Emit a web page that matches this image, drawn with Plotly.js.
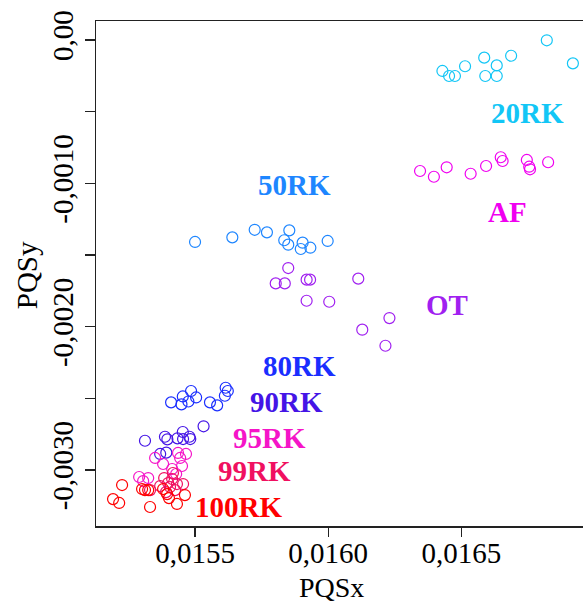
<!DOCTYPE html>
<html>
<head>
<meta charset="utf-8">
<script src="https://cdn.plot.ly/plotly-3.0.1.min.js"></script>
<style>
  html, body { margin: 0; padding: 0; overflow: hidden; background: #fff; }
  #chart { width: 600px; height: 606px; }
</style>
</head>
<body>
<div id="chart"></div>
<script>
// Group names
const groups = ["20RK", "50RK", "AF", "OT", "80RK", "90RK", "95RK", "99RK", "100RK"];

// PQSx / PQSy values per group
const x20RK = [0.016429, 0.016454, 0.016476, 0.016514, 0.016586, 0.016590, 0.016633, 0.016633, 0.016687, 0.016821, 0.016919];
const y20RK = [-0.000216, -0.000251, -0.000251, -0.000183, -0.000123, -0.000251, -0.000177, -0.000251, -0.000110, -0.000002, -0.000163];

const x50RK = [0.015500, 0.015640, 0.015724, 0.015770, 0.015854, 0.015835, 0.015850, 0.015904, 0.015897, 0.015933, 0.015998];
const y50RK = [-0.001409, -0.001377, -0.001324, -0.001342, -0.001328, -0.001397, -0.001428, -0.001414, -0.001458, -0.001449, -0.001402];

const xAF = [0.016345, 0.016397, 0.016445, 0.016535, 0.016593, 0.016648, 0.016655, 0.016746, 0.016755, 0.016758, 0.016826];
const yAF = [-0.000914, -0.000954, -0.000888, -0.000933, -0.000879, -0.000818, -0.000844, -0.000837, -0.000884, -0.000902, -0.000853];

const xOT = [0.015850, 0.015803, 0.015837, 0.015919, 0.015932, 0.016113, 0.015919, 0.016004, 0.016230, 0.016128, 0.016215];
const yOT = [-0.001591, -0.001698, -0.001698, -0.001672, -0.001672, -0.001665, -0.001819, -0.001826, -0.001940, -0.002021, -0.002133];

const x80RK = [0.015410, 0.015449, 0.015454, 0.015475, 0.015485, 0.015504, 0.015556, 0.015583, 0.015612, 0.015615, 0.015623];
const y80RK = [-0.002528, -0.002542, -0.002487, -0.002522, -0.002449, -0.002494, -0.002528, -0.002549, -0.002482, -0.002426, -0.002449];

const x90RK = [0.015532, 0.015312, 0.015387, 0.015396, 0.015434, 0.015454, 0.015455, 0.015479, 0.015482, 0.015369, 0.015392];
const y90RK = [-0.002695, -0.002796, -0.002768, -0.002786, -0.002779, -0.002735, -0.002784, -0.002768, -0.002784, -0.002888, -0.002879];

const x95RK = [0.015290, 0.015305, 0.015324, 0.015350, 0.015380, 0.015414, 0.015436, 0.015444, 0.015466, 0.015451, 0.015429];
const y95RK = [-0.003049, -0.003077, -0.003056, -0.002916, -0.002958, -0.002993, -0.002881, -0.002916, -0.002888, -0.002972, -0.003028];

const x99RK = [0.015417, 0.015414, 0.015399, 0.015406, 0.015369, 0.015432, 0.015455, 0.015331, 0.015391, 0.015384, 0.015425];
const y99RK = [-0.003021, -0.003063, -0.003091, -0.003119, -0.003112, -0.003098, -0.003098, -0.003140, -0.003154, -0.003056, -0.003140];

const x100RK = [0.015192, 0.015215, 0.015226, 0.015331, 0.015301, 0.015312, 0.015324, 0.015380, 0.015395, 0.015402, 0.015432, 0.015462];
const y100RK = [-0.003203, -0.003230, -0.003105, -0.003258, -0.003133, -0.003140, -0.003140, -0.003133, -0.003168, -0.003196, -0.003237, -0.003175];

// Axis ticks
const xTickVals = [0.0155, 0.0160, 0.0165];
const xTickText = ["0,0155", "0,0160", "0,0165"];
const yTickVals = [0, -0.0005, -0.0010, -0.0015, -0.0020, -0.0025, -0.0030];
const yTickText = ["0,00", "", "-0,0010", "", "-0,0020", "", "-0,0030"];

// ---- styling / layout ----
const xs = [x20RK, x50RK, xAF, xOT, x80RK, x90RK, x95RK, x99RK, x100RK];
const ys = [y20RK, y50RK, yAF, yOT, y80RK, y90RK, y95RK, y99RK, y100RK];
const colors = {
  "20RK": "#12C6F6", "50RK": "#1E86FF", "AF": "#F000F0", "OT": "#A020F0",
  "80RK": "#1A2EFF", "90RK": "#4414E6", "95RK": "#F514C8", "99RK": "#F01060", "100RK": "#FF0000"
};
// where each group name sits on the plot (data units)
const labelAt = {
  "20RK": [0.016747, -0.000509], "50RK": [0.015872, -0.001012], "AF": [0.016675, -0.001200],
  "OT": [0.016446, -0.001849], "80RK": [0.015894, -0.002275], "90RK": [0.015845, -0.002526],
  "95RK": [0.015778, -0.002777], "99RK": [0.015725, -0.003007], "100RK": [0.015665, -0.003258]
};

const serif = "Liberation Serif, Times New Roman, serif";
const xRange = [0.015128, 0.016987];

const traces = groups.map((g, i) => ({
  type: "scatter", mode: "markers", name: g,
  x: xs[i], y: ys[i],
  marker: { symbol: "circle-open", size: 11, color: colors[g], line: { width: 1.2, color: colors[g] } },
  hoverinfo: "x+y+name"
}));
// empty trace that carries the tick-mark-only x axis
traces.push({ type: "scatter", mode: "markers", x: [], y: [], xaxis: "x2", yaxis: "y", hoverinfo: "skip" });

const annotations = groups.map(g => ({
  x: labelAt[g][0], y: labelAt[g][1], xref: "x", yref: "y",
  text: "<b>" + g + "</b>", showarrow: false,
  xanchor: "center", yanchor: "middle",
  font: { family: serif, size: 29, color: colors[g] }
}));
annotations.push(
  { x: 0.476, y: -0.122, xref: "paper", yref: "paper", text: "PQSx", showarrow: false,
    xanchor: "center", yanchor: "middle", font: { family: serif, size: 28, color: "#000" } },
  { x: -0.139, y: 0.497, xref: "paper", yref: "paper", text: "PQSy", showarrow: false, textangle: -90,
    xanchor: "center", yanchor: "middle", font: { family: serif, size: 29, color: "#000" } }
);

const axisCommon = {
  showgrid: false, zeroline: false, showline: true, mirror: true,
  linecolor: "#222", linewidth: 1.5,
  ticks: "outside", ticklen: 10, tickwidth: 1.2, tickcolor: "#222",
  tickfont: { family: serif, size: 29, color: "#000" }
};

const layout = {
  width: 600, height: 606,
  margin: { l: 96, r: 9, t: 21, b: 80 },
  paper_bgcolor: "#fff", plot_bgcolor: "#fff",
  showlegend: false,
  // labels sit close to the frame; the tick marks come from xaxis2
  xaxis: Object.assign({}, axisCommon, {
    range: xRange, tickmode: "array", tickvals: xTickVals, ticktext: xTickText,
    ticks: "", ticklen: 0, ticklabelstandoff: 1
  }),
  xaxis2: {
    overlaying: "x", anchor: "y", side: "bottom", range: xRange,
    showgrid: false, zeroline: false, showline: false, showticklabels: false,
    tickmode: "array", tickvals: xTickVals,
    ticks: "outside", ticklen: 10, tickwidth: 1.2, tickcolor: "#222"
  },
  yaxis: Object.assign({}, axisCommon, {
    range: [-0.0033907, 0.0001326], tickmode: "array", tickvals: yTickVals, ticktext: yTickText,
    tickangle: -90
  }),
  annotations: annotations
};

Plotly.newPlot("chart", traces, layout, { displayModeBar: false, staticPlot: true });
</script>
</body>
</html>
